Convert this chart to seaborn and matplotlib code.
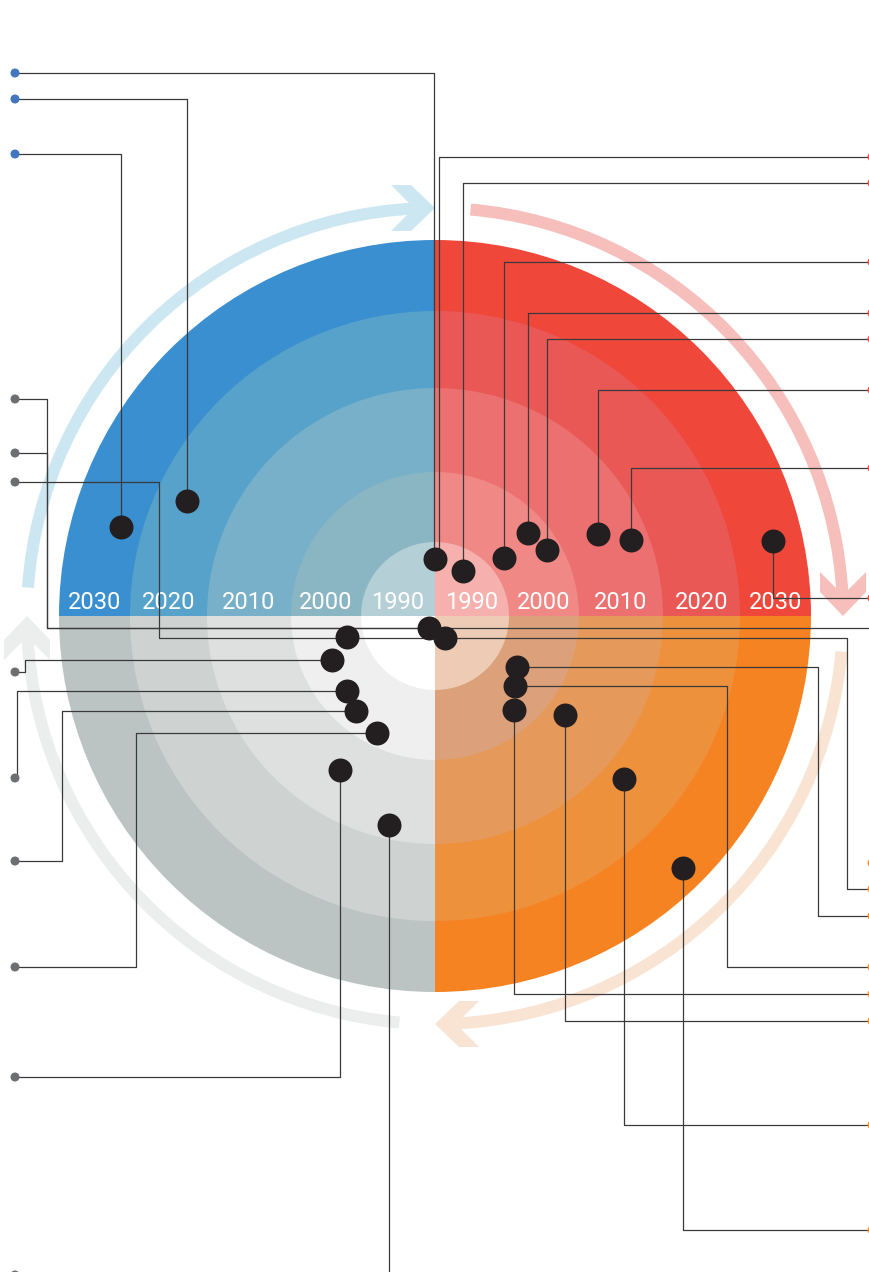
import numpy as np
import matplotlib
matplotlib.use("Agg")
import matplotlib.pyplot as plt
from matplotlib.patches import Wedge, Polygon
import seaborn as sns

# ---------------- data ----------------
ring_years = [1990, 2000, 2010, 2020, 2030]
year_edges = [1985, 1995, 2005, 2015, 2025, 2035]

blue_shades = ["#B5CFD6", "#8AB6C4", "#77B0C8", "#57A2CB", "#3A8FD0"]
red_shades = ["#F6B1AE", "#F08985", "#EC706F", "#EA5856", "#EF473A"]
orange_shades = ["#EDCBB4", "#DCA17A", "#E5995A", "#EE913D", "#F58322"]
gray_shades = ["#FFFFFF", "#EEEFEE", "#DDE0DF", "#CED3D2", "#BCC4C3"]

dot_year = [2028.0, 2020.9, 1992.7, 1992.2, 1997.3, 2002.2, 2003.0, 2009.6,
            2012.9, 2030.8, 1986.8, 1988.3, 1997.4, 2000.4, 2000.9, 2002.1,
            2003.1, 2009.4, 2013.3, 1998.2, 1999.6, 2002.0, 2007.3, 2017.8,
            2031.8]
dot_angle = [164.2, 155.1, 90.0, 58.1, 40.0, 41.8, 30.5, 26.7, 21.2, 12.5,
             243.4, 294.4, 193.4, 203.1, 220.4, 230.2, 243.8, 238.3, 257.6,
             328.1, 318.8, 310.1, 322.7, 319.2, 314.5]

# ---------------- layout ----------------
W, H = 870, 1272
cx, cy = 435, 616
radius_edges = [0, 74, 144, 228, 305, 376]
ARC_R, ARC_W = 408, 12
EDGE_L, EDGE_R = 15, 872
DOT_S = 298
END_S = 42
LINE_C = "#3a3a3a"
end_colors = {"blue": "#4276BE", "gray": "#6D6E71", "red": "#EE4B44",
              "orange": "#F58A2E"}

# leaders: (dot index, kind, elbow x, slot y, side, endpoint colour, x offset)
leaders = [
    (0, "v", None, 154, "L", "blue", 0),
    (1, "v", None, 99, "L", "blue", 0),
    (2, "v", None, 73, "L", "blue", -1),
    (2, "v", None, 157, "R", "red", 4),
    (3, "v", None, 183, "R", "red", 0),
    (4, "v", None, 262, "R", "red", 0),
    (5, "v", None, 313, "R", "red", 0),
    (6, "v", None, 339, "R", "red", 0),
    (7, "v", None, 390, "R", "red", 0),
    (8, "v", None, 468, "R", "red", 0),
    (9, "v", None, 598, "R", "red", 0),
    (10, "h", 47, 399, "L", "gray", 0),
    (10, "h", 47, 453, "L", "gray", 0),
    (10, "h", None, None, "R", None, 0),
    (11, "h", 159, 482, "L", "gray", 0),
    (11, "h", 847, 889, "R", "orange", 0),
    (13, "h", 25, 672, "L", "gray", 0),
    (14, "h", 17, 778, "L", "gray", 0),
    (15, "h", 62, 861, "L", "gray", 0),
    (16, "h", 136, 967, "L", "gray", 0),
    (17, "v", None, 1077, "L", "gray", 0),
    (18, "v", None, 1275, "L", "gray", 0),
    (19, "h", 818, 916, "R", "orange", 0),
    (20, "h", 727, 967, "R", "orange", 0),
    (21, "v", None, 994, "R", "orange", 0),
    (22, "v", None, 1021, "R", "orange", 0),
    (23, "v", None, 1125, "R", "orange", 0),
    (24, "v", None, 1230, "R", "orange", 0),
]
extra_ends = [(EDGE_R, 863, "orange")]

# arrows: (start visual angle, tip visual angle, colour)
arrows = [(176, 90, "#CDE7F2"), (85, 0, "#F6BFBB"),
          (-5, -90, "#F9E4D3"), (-95, -180, "#ECEDED")]

# ---------------- figure ----------------
sns.set_theme(style="white")
plt.rcParams["font.family"] = ["Roboto", "DejaVu Sans"]

fig = plt.figure(figsize=(W / 100, H / 100), dpi=100)
ax = fig.add_axes([0, 0, 1, 1])
ax.set_xlim(0, W)
ax.set_ylim(H, 0)
ax.axis("off")


def vis_wedge(r, a1, a2, color, width=None, z=1):
    # visual angles (counter-clockwise, y up) -> data angles with inverted y
    ax.add_patch(Wedge((cx, cy), r, -a2, -a1, width=width, facecolor=color,
                       edgecolor="none", zorder=z))


quads = [(90, 180, blue_shades), (0, 90, red_shades),
         (270, 360, orange_shades), (180, 270, gray_shades)]
for a1, a2, shades in quads:
    for i in range(len(ring_years) - 1, -1, -1):
        vis_wedge(radius_edges[i + 1], a1, a2, shades[i], z=1)

# arrows
for a_start, a_tip, col in arrows:
    vis_wedge(ARC_R + ARC_W / 2, a_tip + 3, a_start, col, width=ARC_W, z=0.5)
    t = np.radians(a_tip)
    P = np.array([cx + ARC_R * np.cos(t), cy - ARC_R * np.sin(t)])
    d = np.array([np.sin(t), np.cos(t)])
    n = np.array([np.cos(t), -np.sin(t)])
    pts = [P, P - 24 * d + 23 * n, P - 44 * d + 23 * n, P - 21 * d,
           P - 44 * d - 23 * n, P - 24 * d - 23 * n]
    ax.add_patch(Polygon(pts, closed=True, facecolor=col, edgecolor="none",
                         zorder=0.5))

# ring labels
for i, yr in enumerate(ring_years):
    mid = (radius_edges[i] + radius_edges[i + 1]) / 2
    for sx in (-1, 1):
        ax.text(cx + sx * mid, 609, str(yr), color="white", fontsize=17,
                ha="center", va="baseline", zorder=3)

# dot positions from year and angle
r_dot = np.interp(dot_year, year_edges, radius_edges)
ang = np.radians(dot_angle)
dot_x = cx + r_dot * np.cos(ang)
dot_y = cy - r_dot * np.sin(ang)

# leaders
ends_x, ends_y, ends_c = [], [], []
for idx, kind, elbow, slot, side, ecol, off in leaders:
    x0, y0 = dot_x[idx] + off, dot_y[idx]
    xe = EDGE_L if side == "L" else EDGE_R
    if kind == "v":
        xs, ys = [x0, x0, xe], [y0, slot, slot]
    elif elbow is None:
        xs, ys = [x0, xe], [y0, y0]
        slot = y0
    else:
        xs, ys = [x0, elbow, elbow, xe], [y0, y0, slot, slot]
    ax.plot(xs, ys, color=LINE_C, lw=0.9, zorder=4, solid_capstyle="butt")
    if ecol is not None:
        ends_x.append(xe)
        ends_y.append(slot)
        ends_c.append(end_colors[ecol])
for ex, ey, ec in extra_ends:
    ends_x.append(ex)
    ends_y.append(ey)
    ends_c.append(end_colors[ec])

sns.scatterplot(x=ends_x, y=ends_y, c=ends_c, s=END_S, linewidth=0, ax=ax,
                zorder=5, legend=False)
sns.scatterplot(x=dot_x, y=dot_y, color="#231F20", s=DOT_S, linewidth=0,
                ax=ax, zorder=6, legend=False)

ax.set_xlim(0, W)
ax.set_ylim(H, 0)
fig.savefig("out.png", dpi=100)
